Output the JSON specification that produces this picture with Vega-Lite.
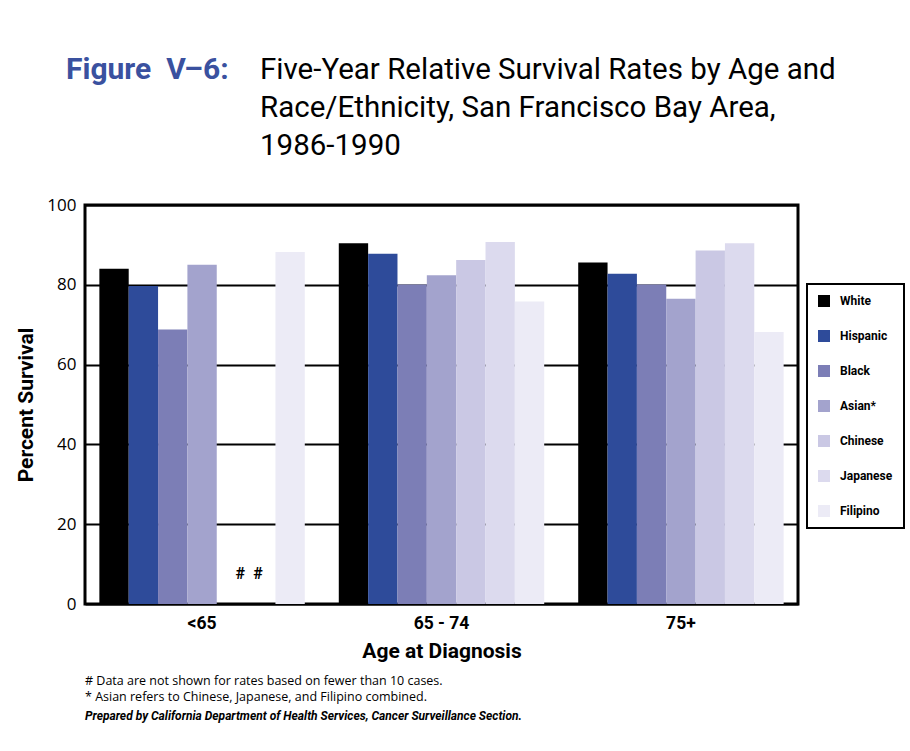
{
  "$schema": "https://vega.github.io/schema/vega-lite/v6.json",
  "background": "white",
  "padding": {"left": 14, "top": 55, "right": 5, "bottom": 5},
  "title": {
    "text": "Figure\u00a0 V\u20136:",
    "anchor": "start",
    "frame": "group",
    "dx": -19,
    "offset": -30,
    "font": "Roboto, sans-serif",
    "fontSize": 30,
    "fontWeight": "bold",
    "color": "#3a519f"
  },
  "vconcat": [
    {
      "title": {
        "text": ["Five-Year Relative Survival Rates by Age and", "Race/Ethnicity, San Francisco Bay Area,", "1986-1990"],
        "anchor": "start",
        "frame": "group",
        "dx": 175,
        "offset": 33,
        "font": "Roboto, sans-serif",
        "fontSize": 29.5,
        "lineHeight": 38,
        "fontWeight": "normal",
        "color": "black"
      },
      "vconcat": [
        {
          "width": 713,
          "height": 399,
          "title": {
            "text": ["#  Data are not shown for rates based on fewer than 10 cases.", "*  Asian refers to Chinese, Japanese, and Filipino combined."],
            "subtitle": "Prepared by California Department of Health Services, Cancer Surveillance Section.",
            "orient": "bottom",
            "anchor": "start",
            "frame": "group",
            "offset": 13,
            "font": "Open Sans, sans-serif",
            "fontSize": 12.5,
            "fontWeight": "normal",
            "lineHeight": 16,
            "color": "black",
            "subtitleFont": "Roboto, sans-serif",
            "subtitleFontSize": 12,
            "subtitleFontWeight": "bold",
            "subtitleFontStyle": "italic",
            "subtitleColor": "black",
            "subtitlePadding": 8
          },
          "data": {
            "values": [
              {"age": "<65", "race": "White", "rate": 84.0, "note": null},
              {"age": "<65", "race": "Hispanic", "rate": 79.7, "note": null},
              {"age": "<65", "race": "Black", "rate": 68.8, "note": null},
              {"age": "<65", "race": "Asian*", "rate": 85.0, "note": null},
              {"age": "<65", "race": "Chinese", "rate": null, "note": "#"},
              {"age": "<65", "race": "Japanese", "rate": null, "note": "#"},
              {"age": "<65", "race": "Filipino", "rate": 88.2, "note": null},
              {"age": "65 - 74", "race": "White", "rate": 90.4, "note": null},
              {"age": "65 - 74", "race": "Hispanic", "rate": 87.8, "note": null},
              {"age": "65 - 74", "race": "Black", "rate": 80.1, "note": null},
              {"age": "65 - 74", "race": "Asian*", "rate": 82.4, "note": null},
              {"age": "65 - 74", "race": "Chinese", "rate": 86.2, "note": null},
              {"age": "65 - 74", "race": "Japanese", "rate": 90.7, "note": null},
              {"age": "65 - 74", "race": "Filipino", "rate": 75.8, "note": null},
              {"age": "75+", "race": "White", "rate": 85.6, "note": null},
              {"age": "75+", "race": "Hispanic", "rate": 82.8, "note": null},
              {"age": "75+", "race": "Black", "rate": 80.1, "note": null},
              {"age": "75+", "race": "Asian*", "rate": 76.5, "note": null},
              {"age": "75+", "race": "Chinese", "rate": 88.6, "note": null},
              {"age": "75+", "race": "Japanese", "rate": 90.4, "note": null},
              {"age": "75+", "race": "Filipino", "rate": 68.2, "note": null}
            ]
          },
          "encoding": {
            "x": {
              "field": "age",
              "type": "nominal",
              "sort": ["<65", "65 - 74", "75+"],
              "scale": {"paddingInner": 0.142, "paddingOuter": 0.06},
              "axis": {
                "title": "Age at Diagnosis",
                "labelAngle": 0,
                "ticks": false,
                "domain": false,
                "labelFont": "Roboto, sans-serif",
                "labelFontWeight": "bold",
                "labelFontSize": 17.5,
                "labelColor": "black",
                "labelPadding": 10,
                "titleFont": "Roboto, sans-serif",
                "titleFontWeight": "bold",
                "titleFontSize": 21,
                "titleColor": "black",
                "titlePadding": 9
              }
            },
            "xOffset": {
              "field": "race",
              "type": "nominal",
              "scale": {
                "domain": ["White", "Hispanic", "Black", "Asian*", "Chinese", "Japanese", "Filipino"],
                "paddingInner": 0,
                "paddingOuter": 0
              }
            }
          },
          "layer": [
            {
              "mark": {"type": "bar"},
              "encoding": {
                "y": {
                  "field": "rate",
                  "type": "quantitative",
                  "scale": {"domain": [0, 100]},
                  "axis": {
                    "title": "Percent Survival",
                    "values": [0, 20, 40, 60, 80, 100],
                    "ticks": false,
                    "domain": false,
                    "grid": true,
                    "gridColor": "black",
                    "gridWidth": 2,
                    "gridOpacity": 1,
                    "zindex": 0,
                    "labelFont": "Open Sans, sans-serif",
                    "labelFontSize": 17,
                    "labelColor": "black",
                    "labelPadding": 9,
                    "titleFont": "Roboto, sans-serif",
                    "titleFontWeight": "bold",
                    "titleFontSize": 21,
                    "titleColor": "black",
                    "titlePadding": 10
                  }
                },
                "color": {
                  "field": "race",
                  "type": "nominal",
                  "scale": {
                    "domain": ["White", "Hispanic", "Black", "Asian*", "Chinese", "Japanese", "Filipino"],
                    "range": ["#000000", "#2e4b9a", "#7c7eb6", "#a3a3cd", "#cac8e4", "#dcdaee", "#ecebf6"]
                  },
                  "legend": {
                    "title": null,
                    "orient": "none",
                    "legendX": 722,
                    "legendY": 79,
                    "symbolType": "square",
                    "symbolSize": 144,
                    "symbolStrokeWidth": 0,
                    "symbolOpacity": 1,
                    "labelFont": "Roboto, sans-serif",
                    "labelFontWeight": "bold",
                    "labelFontSize": 12,
                    "labelColor": "black",
                    "labelOffset": 10,
                    "rowPadding": 23,
                    "padding": 11,
                    "strokeColor": "black"
                  }
                }
              }
            },
            {
              "transform": [{"filter": "datum.note != null && datum.race == 'Chinese'"}],
              "mark": {"type": "text", "align": "left", "baseline": "middle", "dx": 4, "fontSize": 16, "fontWeight": "bold", "font": "Roboto, sans-serif", "color": "black"},
              "encoding": {
                "y": {"datum": 7.6},
                "text": {"field": "note"}
              }
            },
            {
              "transform": [{"filter": "datum.note != null && datum.race == 'Japanese'"}],
              "mark": {"type": "text", "align": "right", "baseline": "middle", "dx": 2, "fontSize": 16, "fontWeight": "bold", "font": "Roboto, sans-serif", "color": "black"},
              "encoding": {
                "y": {"datum": 7.6},
                "text": {"field": "note"}
              }
            }
          ]
        }
      ]
    }
  ],
  "config": {
    "view": {"stroke": "black", "strokeWidth": 3},
    "legend": {"strokeWidth": 2},
    "concat": {"spacing": 0}
  }
}
